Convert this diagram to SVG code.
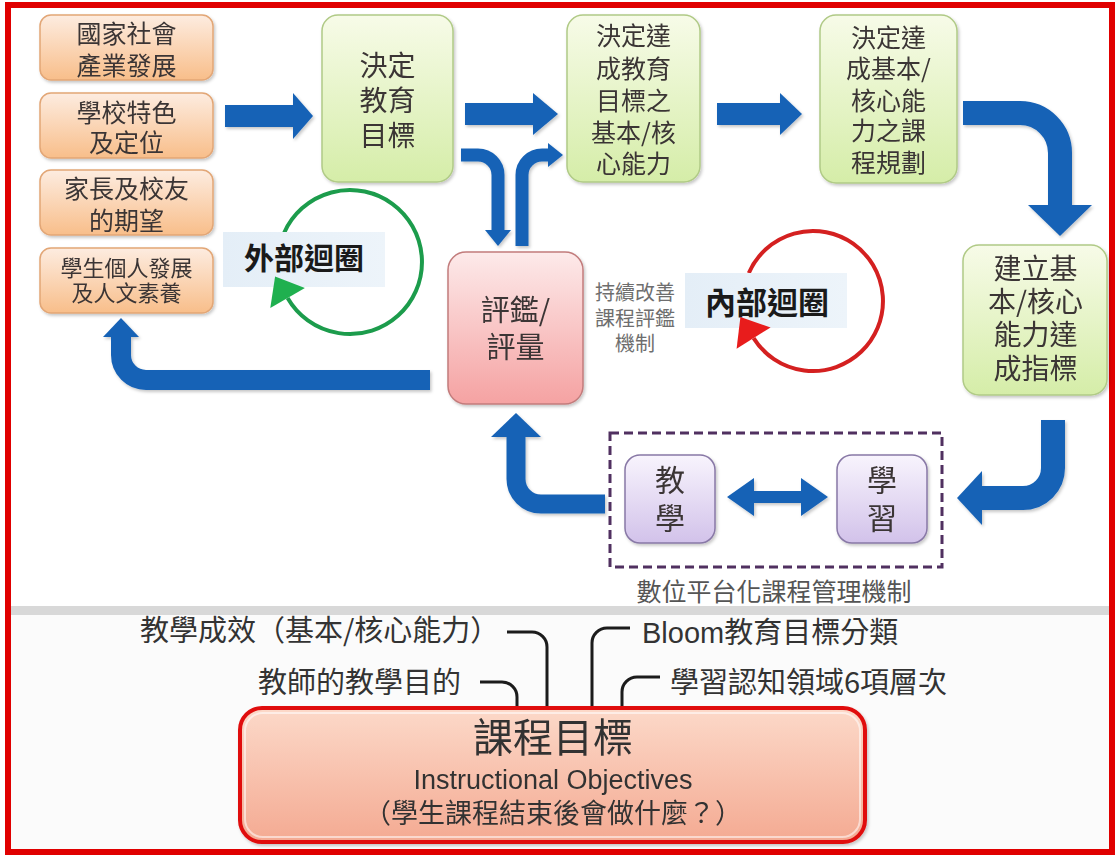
<svg xmlns="http://www.w3.org/2000/svg" width="1115" height="857" viewBox="0 0 1115 857">
<defs>
<linearGradient id="gOr" x1="0" y1="0" x2="0" y2="1"><stop offset="0" stop-color="#fdece0"/><stop offset="1" stop-color="#f8be8a"/></linearGradient>
<linearGradient id="gGr" x1="0" y1="0" x2="0" y2="1"><stop offset="0" stop-color="#f7fbe8"/><stop offset="1" stop-color="#d5eda8"/></linearGradient>
<linearGradient id="gPk" x1="0" y1="0" x2="0" y2="1"><stop offset="0" stop-color="#fdeaea"/><stop offset="1" stop-color="#f5a2a2"/></linearGradient>
<linearGradient id="gPu" x1="0" y1="0" x2="0" y2="1"><stop offset="0" stop-color="#f8f4fd"/><stop offset="1" stop-color="#d2c2ea"/></linearGradient>
<linearGradient id="gMain" x1="0" y1="0" x2="0" y2="1"><stop offset="0" stop-color="#fcd9c9"/><stop offset="1" stop-color="#f4aa92"/></linearGradient>
<linearGradient id="gLb" x1="0" y1="0" x2="1" y2="0"><stop offset="0" stop-color="#e4eef7"/><stop offset="1" stop-color="#edf4fa"/></linearGradient>
<filter id="sh" x="-10%" y="-10%" width="130%" height="130%"><feDropShadow dx="1.5" dy="2" stdDeviation="1.5" flood-color="#000" flood-opacity="0.22"/></filter>
<style>
.cjk{font-family:"Noto Sans CJK TC","Noto Sans CJK SC",sans-serif}
.lat{font-family:"Liberation Sans","Noto Sans CJK TC",sans-serif}
.t{text-anchor:middle;fill:#3a3434}
.or{fill:url(#gOr);stroke:#e2a676;stroke-width:1.5}
.gr{fill:url(#gGr);stroke:#b0ca86;stroke-width:1.5}
.pk{fill:url(#gPk);stroke:#c27c7c;stroke-width:1.5}
.pu{fill:url(#gPu);stroke:#8878a6;stroke-width:1.5}
.shaft{fill:none;stroke:#1762b6;stroke-linecap:butt}
.head{fill:#1762b6}
.conn{fill:none;stroke:#1c1c1c;stroke-width:3}
.lb{fill:url(#gLb)}
.lbt{font-weight:bold;fill:#1a1a1a}
</style>
</defs>
<rect x="0" y="0" width="1115" height="857" fill="#ffffff"/>
<rect x="8" y="612" width="1102" height="238" fill="#fbfbfb"/>
<rect x="8" y="606" width="1102" height="9" fill="#d8d8d8"/>
<rect x="8" y="5" width="1104" height="847" fill="none" stroke="#e00000" stroke-width="6"/>

<g id="loops">
<g id="outer-loop">
<path d="M 284.2 232.7 A 72 72 0 1 1 287.6 298" fill="none" stroke="#1c9c4c" stroke-width="4"/>
<rect class="lb" x="223" y="232" width="162" height="55"/>
<text class="cjk lbt" x="304" y="269" font-size="30" text-anchor="middle">外部迴圈</text>
<polygon points="270.3,308 304.9,288 275.1,276.4" fill="#1fb04f"/>
</g>
<g id="inner-loop">
<path d="M 748.8 273 A 70 70 0 1 1 753.6 338.1" fill="none" stroke="#d42020" stroke-width="4"/>
<rect class="lb" x="685" y="273" width="162" height="55"/>
<text class="cjk lbt" x="767" y="314" font-size="31" text-anchor="middle">內部迴圈</text>
<polygon points="736.6,348.7 770.6,327.5 740.4,316.9" fill="#e81c1c"/>
</g>
</g>

<g id="connectors" filter="url(#sh)">
<path class="shaft" d="M 225 116 H 294" stroke-width="22"/>
<polygon class="head" points="293,93 313,116 293,139"/>
<path class="shaft" d="M 465 114 H 534" stroke-width="22"/>
<polygon class="head" points="533,93 558,114 533,135"/>
<path class="shaft" d="M 717 114 H 781" stroke-width="22"/>
<polygon class="head" points="780,93 802,114 780,135"/>
<path class="shaft" d="M 461 155 H 478 A 20 20 0 0 1 498 175 V 231" stroke-width="13"/>
<polygon class="head" points="485,230 511,230 498,246"/>
<path class="shaft" d="M 522 246 V 175 A 20 20 0 0 1 542 155 H 549" stroke-width="13"/>
<polygon class="head" points="548,143 563,155 548,167"/>
<path class="shaft" d="M 963 113 H 1020 A 40 40 0 0 1 1060 153 V 206" stroke-width="24"/>
<polygon class="head" points="1028,205 1092,205 1060,236"/>
<path class="shaft" d="M 1053 420 V 468 A 30 30 0 0 1 1023 498 H 981" stroke-width="24"/>
<polygon class="head" points="982,471 982,525 957,498"/>
<polygon class="head" points="727,497 754,478 754,491 801,491 801,478 828,497 801,516 801,503 754,503 754,516"/>
<path class="shaft" d="M 605 504 H 541 A 25 25 0 0 1 516 479 V 436" stroke-width="19"/>
<polygon class="head" points="491,437 541,437 516,413"/>
<path class="shaft" d="M 430 380 H 146 A 25 25 0 0 1 121 355 V 336" stroke-width="20"/>
<polygon class="head" points="103,337 139,337 121,318"/>
</g>

<g id="n-society" filter="url(#sh)">
<rect class="or" x="40" y="15" width="173" height="65" rx="11"/>
<text class="cjk t" font-size="25"><tspan x="126.5" y="42.5">國家社會</tspan><tspan x="126.5" y="74.5">產業發展</tspan></text>
</g>
<g id="n-school" filter="url(#sh)">
<rect class="or" x="40" y="93" width="173" height="65" rx="11"/>
<text class="cjk t" font-size="25"><tspan x="126.5" y="121.5">學校特色</tspan><tspan x="126.5" y="151.5">及定位</tspan></text>
</g>
<g id="n-parents" filter="url(#sh)">
<rect class="or" x="40" y="170" width="173" height="65" rx="11"/>
<text class="cjk t" font-size="25"><tspan x="126.5" y="197.5">家長及校友</tspan><tspan x="126.5" y="229.5">的期望</tspan></text>
</g>
<g id="n-student" filter="url(#sh)">
<rect class="or" x="40" y="248" width="173" height="65" rx="11"/>
<text class="cjk t" font-size="22"><tspan x="126.5" y="276">學生個人發展</tspan><tspan x="126.5" y="301">及人文素養</tspan></text>
</g>

<g id="n-goal" filter="url(#sh)">
<rect class="gr" x="322" y="15" width="131" height="167" rx="16"/>
<text class="cjk t" font-size="28"><tspan x="387.5" y="75.6">決定</tspan><tspan x="387.5" y="110.6">教育</tspan><tspan x="387.5" y="145.6">目標</tspan></text>
</g>
<g id="n-ability" filter="url(#sh)">
<rect class="gr" x="567" y="15" width="133" height="167" rx="16"/>
<text class="cjk t" font-size="25"><tspan x="633.5" y="44.5">決定達</tspan><tspan x="633.5" y="77.5">成教育</tspan><tspan x="633.5" y="109.5">目標之</tspan><tspan x="633.5" y="141.5">基本/核</tspan><tspan x="633.5" y="172.5">心能力</tspan></text>
</g>
<g id="n-plan" filter="url(#sh)">
<rect class="gr" x="820" y="15" width="137" height="168" rx="16"/>
<text class="cjk t" font-size="25"><tspan x="888.5" y="46.5">決定達</tspan><tspan x="888.5" y="77.5">成基本/</tspan><tspan x="888.5" y="109.5">核心能</tspan><tspan x="888.5" y="139.5">力之課</tspan><tspan x="888.5" y="171.5">程規劃</tspan></text>
</g>
<g id="n-indicator" filter="url(#sh)">
<rect class="gr" x="963" y="245" width="144" height="150" rx="16"/>
<text class="cjk t" font-size="28"><tspan x="1035.5" y="278.6">建立基</tspan><tspan x="1035.5" y="311.6">本/核心</tspan><tspan x="1035.5" y="344.6">能力達</tspan><tspan x="1035.5" y="378.6">成指標</tspan></text>
</g>

<g id="n-eval" filter="url(#sh)">
<rect class="pk" x="448" y="252" width="135" height="152" rx="18"/>
<text class="cjk t" font-size="29"><tspan x="515.5" y="321">評鑑/</tspan><tspan x="515.5" y="358">評量</tspan></text>
</g>
<g id="n-improve">
<text class="cjk" font-size="20" text-anchor="middle" fill="#6e6e6e"><tspan x="635" y="299.6">持續改善</tspan><tspan x="635" y="325.6">課程評鑑</tspan><tspan x="635" y="350.6">機制</tspan></text>
</g>

<g id="n-platform">
<rect x="610" y="433" width="332" height="134" fill="none" stroke="#503060" stroke-width="3" stroke-dasharray="9 5"/>
<text class="cjk" x="774" y="601" font-size="25" text-anchor="middle" fill="#555">數位平台化課程管理機制</text>
</g>
<g id="n-teach" filter="url(#sh)">
<rect class="pu" x="625" y="455" width="90" height="88" rx="15"/>
<text class="cjk t" font-size="30"><tspan x="670" y="491">教</tspan><tspan x="670" y="529">學</tspan></text>
</g>
<g id="n-learn" filter="url(#sh)">
<rect class="pu" x="837" y="455" width="90" height="88" rx="15"/>
<text class="cjk t" font-size="30"><tspan x="882" y="491">學</tspan><tspan x="882" y="529">習</tspan></text>
</g>

<g id="bottom-connectors">
<path class="conn" d="M 507 632 H 532 A 15 15 0 0 1 547 647 V 710"/>
<path class="conn" d="M 480 682 H 502 A 15 15 0 0 1 517 697 V 710"/>
<path class="conn" d="M 630 628 H 607 A 15 15 0 0 0 592 643 V 710"/>
<path class="conn" d="M 660 677 H 637 A 15 15 0 0 0 622 692 V 710"/>
</g>
<g id="n-outcome"><text class="cjk" x="140" y="641" font-size="29" fill="#333">教學成效（基本/核心能力）</text></g>
<g id="n-purpose"><text class="cjk" x="258" y="693" font-size="29" fill="#333">教師的教學目的</text></g>
<g id="n-bloom"><text class="lat" x="642" y="643" font-size="29" fill="#333">Bloom<tspan class="cjk">教育目標分類</tspan></text></g>
<g id="n-levels"><text class="cjk" x="670" y="693" font-size="29" fill="#333">學習認知領域6項層次</text></g>

<g id="n-objectives" filter="url(#sh)">
<rect x="240" y="708" width="625" height="134" rx="22" fill="url(#gMain)" stroke="#e01010" stroke-width="4"/>
<rect x="245" y="713" width="615" height="124" rx="18" fill="none" stroke="#ffffff" stroke-opacity="0.55" stroke-width="2"/>
<text class="cjk" x="553" y="752" font-size="40" text-anchor="middle" fill="#333">課程目標</text>
<text class="lat" x="553" y="789" font-size="27" text-anchor="middle" fill="#333">Instructional Objectives</text>
<text class="cjk" x="553" y="823" font-size="27" text-anchor="middle" fill="#333">（學生課程結束後會做什麼？）</text>
</g>
</svg>
